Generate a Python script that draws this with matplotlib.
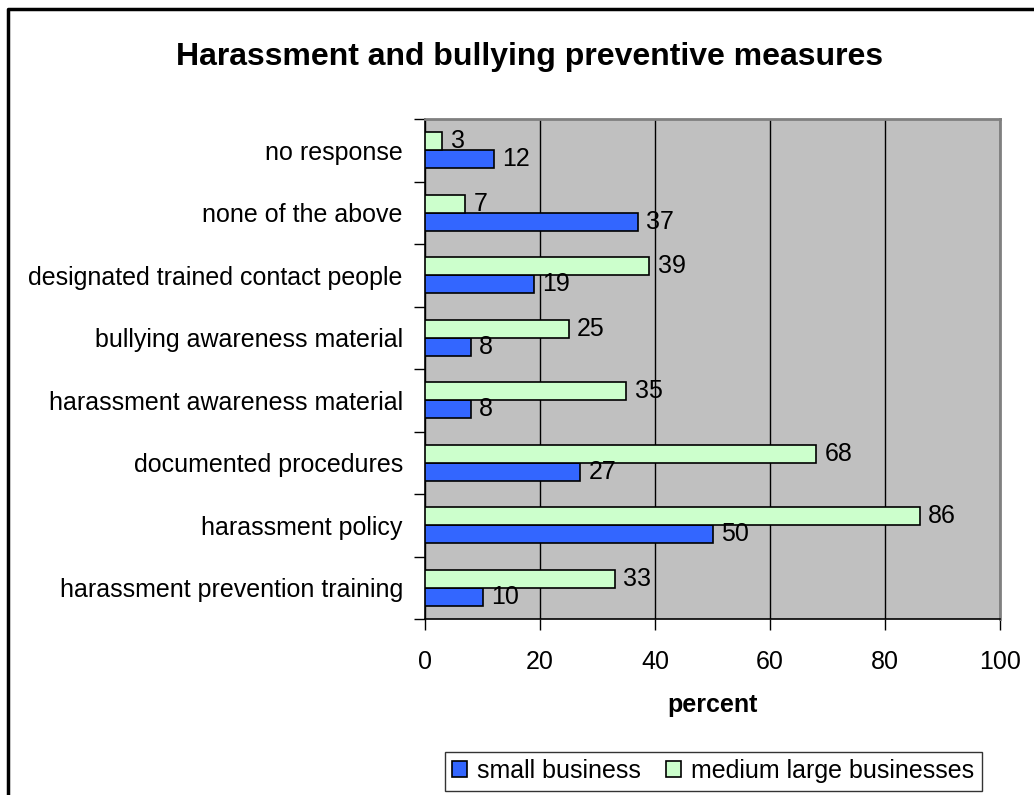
import matplotlib.pyplot as plt
from matplotlib.lines import Line2D
from matplotlib.ticker import FixedLocator, NullFormatter

categories = [
    "harassment prevention training",
    "harassment policy",
    "documented procedures",
    "harassment awareness material",
    "bullying awareness material",
    "designated trained contact people",
    "none of the above",
    "no response",
]
small_business = [10, 50, 27, 8, 8, 19, 37, 12]
medium_large = [33, 86, 68, 35, 25, 39, 7, 3]

plt.rcParams["font.family"] = ["Liberation Sans", "DejaVu Sans"]

W, H = 1034, 795
fig = plt.figure(figsize=(W / 100, H / 100), dpi=100)
ax = fig.add_axes([425 / W, 1 - 619 / H, 575 / W, 500 / H])

bar_h = 0.29
pos = list(range(len(categories)))
ax.set_facecolor("#C0C0C0")

blue = ax.barh([p - bar_h / 2 for p in pos], small_business, height=bar_h,
               color="#3366FF", edgecolor="black", linewidth=1.2,
               label="small business", zorder=3)
green = ax.barh([p + bar_h / 2 for p in pos], medium_large, height=bar_h,
                color="#CCFFCC", edgecolor="black", linewidth=1.2,
                label="medium large businesses", zorder=3)

for bars in (blue, green):
    ax.bar_label(bars, padding=6, fontsize=18)

ax.set_xlim(0, 100)
ax.set_ylim(-0.5, len(categories) - 0.5)
ax.set_xticks([0, 20, 40, 60, 80, 100])
ax.tick_params(axis="x", labelsize=18, length=8, width=1, pad=14)

# category labels sit between the boundary ticks
ax.yaxis.set_major_locator(FixedLocator([p - 0.5 for p in pos] + [len(pos) - 0.5]))
ax.yaxis.set_major_formatter(NullFormatter())
ax.yaxis.set_minor_locator(FixedLocator(pos))
ax.set_yticklabels(categories, minor=True)
ax.tick_params(axis="y", which="major", length=8, width=1)
ax.tick_params(axis="y", which="minor", length=0, labelsize=18, pad=16)

ax.grid(axis="x", color="black", linewidth=1, zorder=1)
ax.set_axisbelow(True)

for side in ("top", "right"):
    ax.spines[side].set_color("#808080")
    ax.spines[side].set_linewidth(2)
for side in ("left", "bottom"):
    ax.spines[side].set_color("black")
    ax.spines[side].set_linewidth(1.2)

ax.set_xlabel("percent", fontsize=18, fontweight="bold", labelpad=14)
fig.text(0.5 * (177 + 883) / W, 1 - 57 / H,
         "Harassment and bullying preventive measures",
         fontsize=23, fontweight="bold", ha="center", va="center")

leg = fig.legend(handles=[blue, green], loc="center", ncol=2,
                 bbox_to_anchor=(713 / W, 1 - 771 / H), fontsize=18,
                 frameon=True, fancybox=False, edgecolor="black",
                 handlelength=0.6, handleheight=0.6, handletextpad=0.4,
                 columnspacing=1.0, borderpad=0.3, borderaxespad=0.4)
leg.get_frame().set_linewidth(1)

# chart area border (top and left edges)
fig.add_artist(Line2D([8 / W, 8 / W, 1.0], [0.0, 1 - 9 / H, 1 - 9 / H],
                      transform=fig.transFigure, color="black", linewidth=2.5))

fig.savefig("out.png", dpi=100)
